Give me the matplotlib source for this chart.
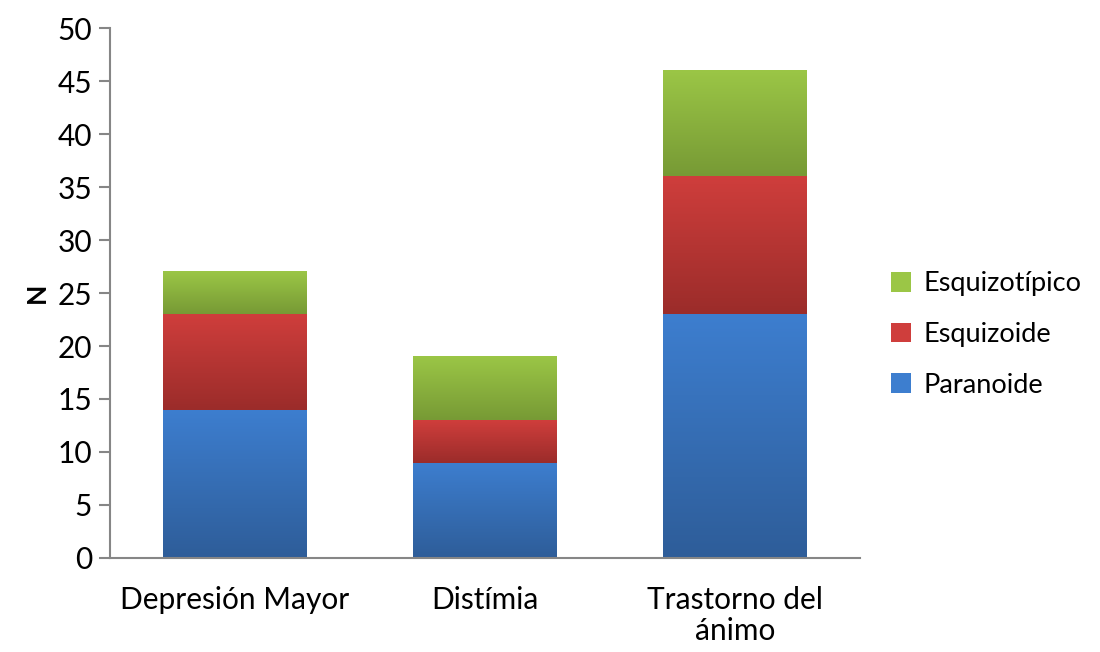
import matplotlib.pyplot as plt
import numpy as np
from matplotlib.colors import LinearSegmentedColormap
from matplotlib.patches import Patch

plt.rcParams['font.family'] = ['Lato', 'DejaVu Sans']

categories = ["Depresión Mayor", "Distímia", "Trastorno del\nánimo"]
paranoide = [14, 9, 23]
esquizoide = [9, 4, 13]
esquizotipico = [4, 6, 10]

series = [("Paranoide", paranoide, "#3D7ECF", "#2E5D99"),
          ("Esquizoide", esquizoide, "#CF3E3C", "#9B2C2A"),
          ("Esquizotípico", esquizotipico, "#9BC646", "#779A35")]

fig = plt.figure(figsize=(11, 6.52), dpi=100)
ax = fig.add_axes([0.1, 0.1442, 0.6818, 0.8128])

x = np.arange(len(categories))
bottom = np.zeros(len(categories))
grad = np.linspace(0, 1, 256).reshape(-1, 1)
handles = []
for name, vals, top_c, bot_c in series:
    bars = ax.bar(x, vals, 0.576, bottom=bottom, color=top_c, linewidth=0)
    cmap = LinearSegmentedColormap.from_list(name, [top_c, bot_c])
    for b in bars:
        x0, y0, w, h = b.get_x(), b.get_y(), b.get_width(), b.get_height()
        ax.imshow(grad, cmap=cmap, aspect='auto', extent=(x0, x0 + w, y0, y0 + h),
                  origin='upper', zorder=2)
    bottom += np.array(vals)
    handles.append(Patch(facecolor=top_c, label=name))

ax.set_xlim(-0.5, 2.5)
ax.set_ylim(0, 50)
ax.set_yticks(range(0, 51, 5))
ax.set_xticks(x)
ax.set_xticklabels(categories, fontsize=21.5, linespacing=1.15)
ax.tick_params(axis='x', which='major', length=0, pad=20)
ax.tick_params(axis='y', length=8, color='#868686', width=1.5, labelsize=21.5, pad=5)
for s in ['top', 'right']:
    ax.spines[s].set_visible(False)
for s in ['left', 'bottom']:
    ax.spines[s].set_color('#868686')
    ax.spines[s].set_linewidth(1.5)
ax.set_ylabel("N", fontsize=19, fontweight='bold', labelpad=6)

fig.legend(handles=handles[::-1], loc='center left', bbox_to_anchor=(0.81, 0.487),
           frameon=False, fontsize=19.5, handlelength=0.75, handleheight=0.75,
           handletextpad=0.45, labelspacing=0.95, borderpad=0, borderaxespad=0)

fig.savefig("out.png", dpi=100)
